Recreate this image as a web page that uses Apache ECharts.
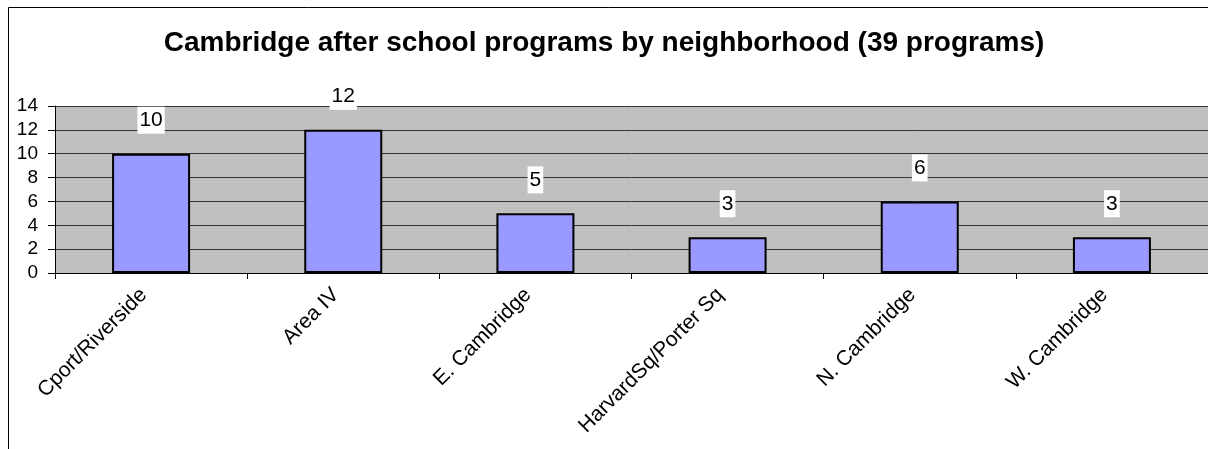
<!DOCTYPE html>
<html>
<head>
<meta charset="utf-8">
<script src="https://cdn.jsdelivr.net/npm/echarts@6/dist/echarts.min.js"></script>
<style>
  html, body { margin: 0; padding: 0; background: #fff; }
  #chart { width: 1208px; height: 449px; }
</style>
</head>
<body>
<div id="chart"></div>
<script>
const titleText = 'Cambridge after school programs by neighborhood (39 programs)';
const neighborhoods = ['Cport/Riverside', 'Area IV', 'E. Cambridge', 'HarvardSq/Porter Sq', 'N. Cambridge', 'W. Cambridge'];
const programCounts = [10, 12, 5, 3, 6, 3];

const chart = echarts.init(document.getElementById('chart'), null, { renderer: 'canvas' });

const fontFam = 'Liberation Sans, Arial, sans-serif';

const option = {
  animation: false,
  textStyle: { fontFamily: fontFam },
  title: {
    text: titleText,
    left: 'center',
    top: 24,
    textStyle: { fontSize: 28, fontWeight: 'bold', color: '#000', fontFamily: fontFam }
  },
  // 外框（只画左边和上边，右/下在画面外）
  graphic: [
    { type: 'line', shape: { x1: 8.5, y1: 7.5, x2: 8.5, y2: 449 }, style: { stroke: '#000', lineWidth: 1 } },
    { type: 'line', shape: { x1: 8.5, y1: 7.5, x2: 1208, y2: 7.5 }, style: { stroke: '#000', lineWidth: 1 } }
  ],
  grid: {
    left: 55, top: 106, width: 1164, height: 167,
    show: true, backgroundColor: '#c0c0c0', borderWidth: 0
  },
  xAxis: {
    type: 'category',
    data: neighborhoods,
    axisLine: { show: true, lineStyle: { color: '#000', width: 1 } },
    axisTick: { show: true, length: 6, lineStyle: { color: '#000' } },
    axisLabel: { rotate: 45, margin: 26, fontSize: 21, color: '#000', interval: 0, verticalAlign: 'bottom' }
  },
  yAxis: {
    type: 'value',
    min: 0, max: 14, interval: 2,
    axisLine: { show: true, lineStyle: { color: '#000', width: 1 } },
    axisTick: { show: true, length: 7, lineStyle: { color: '#000' } },
    axisLabel: { fontSize: 19, color: '#000', margin: 17 },
    splitLine: { show: true, lineStyle: { color: '#333', width: 1 } }
  },
  series: [{
    type: 'bar',
    data: programCounts,
    barWidth: 78,
    itemStyle: { color: '#9999ff', borderColor: '#000', borderWidth: 2 },
    label: {
      show: true,
      position: 'top',
      distance: 20,
      fontSize: 21,
      color: '#000',
      backgroundColor: '#fff',
      padding: [3, 2, 3, 2]
    }
  }]
};

chart.setOption(option);
</script>
</body>
</html>
